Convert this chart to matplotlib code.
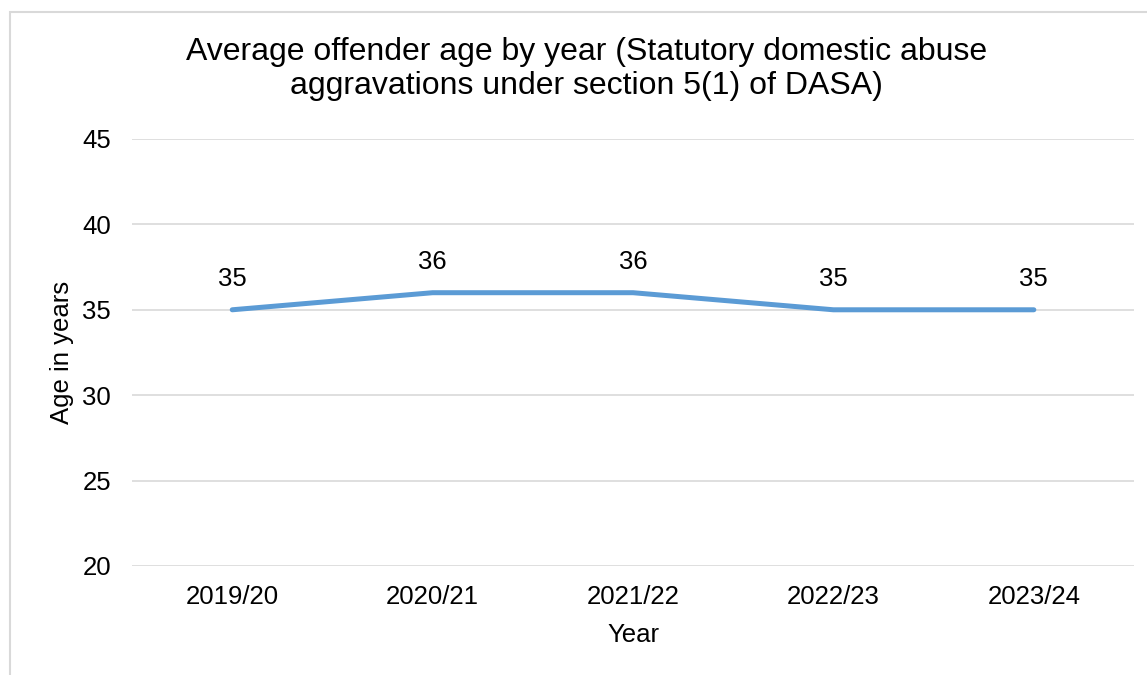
import matplotlib
matplotlib.use("Agg")
import matplotlib.pyplot as plt
from matplotlib.patches import Rectangle

plt.rcParams['font.family'] = ['Liberation Sans', 'DejaVu Sans']

years = ['2019/20', '2020/21', '2021/22', '2022/23', '2023/24']
avg_age = [35, 36, 36, 35, 35]
y_ticks = [20, 25, 30, 35, 40, 45]

fig = plt.figure(figsize=(11.47, 6.75), dpi=100)
ax = fig.add_axes([0.1151, 0.1615, 0.8736, 0.6326])

# light chart border like the Excel chart area
fig.patches.append(Rectangle((10 / 1147, -0.1), 1.2, 1 - 12 / 675 + 0.1,
                             transform=fig.transFigure, fill=False,
                             edgecolor='#D9D9D9', linewidth=1.5))

x = range(len(years))
ax.plot(x, avg_age, color='#5B9BD5', linewidth=3.6, solid_capstyle='round', zorder=3)
for xi, v in zip(x, avg_age):
    ax.annotate(str(v), (xi, v), xytext=(0, 17), textcoords='offset points',
                ha='center', va='baseline', fontsize=18.5)

ax.set_xlim(-0.5, len(years) - 0.5)
ax.set_ylim(20, 45)
ax.set_yticks(y_ticks)
ax.set_xticks(list(x))
ax.set_xticklabels(years)
ax.grid(axis='y', color='#D9D9D9', linewidth=1.2)
ax.set_axisbelow(True)
for s in ax.spines.values():
    s.set_visible(False)
ax.tick_params(axis='both', length=0, labelsize=18.5)
ax.tick_params(axis='y', pad=15)
ax.tick_params(axis='x', pad=14)

ax.set_ylabel('Age in years', fontsize=18.5, labelpad=6)
ax.set_xlabel('Year', fontsize=18.5, labelpad=10)
fig.text(0.511, 0.898, 'Average offender age by year (Statutory domestic abuse\naggravations under section 5(1) of DASA)',
         ha='center', va='center', fontsize=23, linespacing=1.2)

fig.savefig('out.png', dpi=100)
